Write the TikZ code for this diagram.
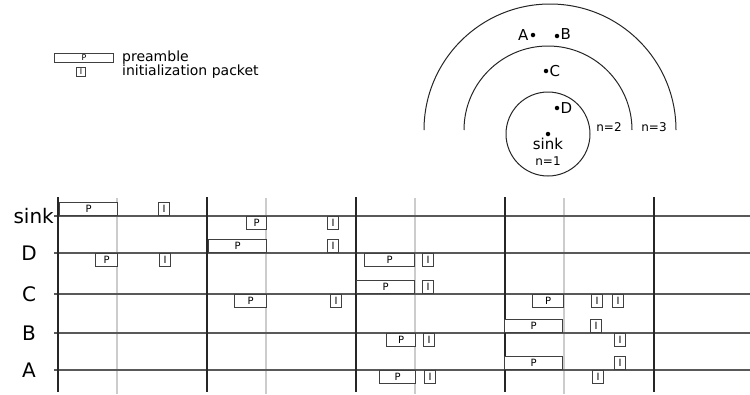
\documentclass[tikz,border=0pt]{standalone}
\usepackage{fontspec}
\setmainfont{DejaVu Sans}
\usetikzlibrary{positioning}
\tikzset{
  lane/.style={draw=black!65,line width=1.4pt},
  slotline/.style={draw=black!85,line width=1.1pt},
  halfline/.style={draw=black!20,line width=1.1pt},
  pbox/.style={draw=black!75,fill=white,line width=1.1pt,inner sep=0pt,minimum height=13pt,font=\fontsize{10}{10}\selectfont},
  ibox/.style={pbox,minimum width=11pt},
  rowlabel/.style={font=\fontsize{20}{20}\selectfont,inner sep=0pt},
  dot/.style={circle,fill=black,inner sep=0pt,minimum size=4.5pt},
  ringlabel/.style={font=\fontsize{15}{15}\selectfont,inner sep=1pt},
  hoplabel/.style={font=\fontsize{12}{12}\selectfont,inner sep=1pt},
  legend/.style={font=\fontsize{14}{14}\selectfont,anchor=west,inner sep=0pt},
}

\begin{document}
\begin{tikzpicture}[x=1pt,y=-1pt]
\useasboundingbox (0,0) rectangle (750,394);

% legend
\node[pbox,minimum width=59pt,minimum height=9pt,anchor=north west,font=\fontsize{8}{8}\selectfont] (legp) at (54,53) {P};
\node[legend] (legpt) at (122,58) {preamble};
\node[ibox,minimum width=9pt,minimum height=9pt,anchor=north west,font=\fontsize{8}{8}\selectfont] (legi) at (76,67) {I};
\node[legend] (legit) at (122,72) {initialization packet};

% rings round the sink
\node[dot] (sinkdot) at (548,134) {};
\draw[line width=1pt,draw=black!85] (sinkdot) circle[radius=42pt];
\coordinate (core2) at (548,130);
\coordinate (core3) at (550,130);
\draw[line width=1pt,draw=black!85] ([xshift=84pt]core2) arc[start angle=0,end angle=180,radius=84pt];
\draw[line width=1pt,draw=black!85] ([xshift=126pt]core3) arc[start angle=0,end angle=180,radius=126pt];
\node[ringlabel,below=0pt of sinkdot] (sinklab) {sink};
\node[dot] (Ddot) at (557,108) {};
\node[ringlabel,right=0pt of Ddot] (Dlab) {D};
\node[dot] (Cdot) at (546,71) {};
\node[ringlabel,right=0pt of Cdot] (Clab) {C};
\node[dot] (Adot) at (533,35) {};
\node[ringlabel,left=1pt of Adot] (Alab) {A};
\node[dot] (Bdot) at (557,36) {};
\node[ringlabel,right=0pt of Bdot,yshift=2pt] (Blab) {B};
\node[hoplabel] (hop1) at (548,161) {n=1};
\node[hoplabel] (hop2) at (609,127) {n=2};
\node[hoplabel] (hop3) at (654,127) {n=3};

% time slots
\foreach \k in {0,...,3}
  \draw[halfline] (117+149*\k,198) -- ++(0,196);
\foreach \name/\y in {sink/216,D/253,C/294,B/333,A/370} {
  \coordinate (\name w) at (54,\y);
  \coordinate (\name e) at (750,\y);
  \draw[lane] (\name w) -- (\name e);
}
\foreach \k in {0,...,4}
  \draw[slotline] (58+149*\k,197) -- ++(0,195);

% row labels
\node[rowlabel,anchor=east] (lsink) at (sinkw) {sink};
\node[rowlabel] (lD) at (29,253) {D};
\node[rowlabel] (lC) at (29,294) {C};
\node[rowlabel] (lB) at (29,333) {B};
\node[rowlabel] (lA) at (29,370) {A};

% preambles above / below a lane
\foreach \x/\y/\w [count=\i] in {59/216/58,208/253/58,356/294/58,504/333/58,504/370/58}
  \node[pbox,minimum width=\w,anchor=south west] (pa\i) at (\x,\y) {P};
\foreach \x/\y/\w [count=\i] in {95/253/22,246/216/20,234/294/32,364/253/50,532/294/31,386/333/29,379/370/36}
  \node[pbox,minimum width=\w,anchor=north west] (pb\i) at (\x,\y) {P};

% initialization packets above / below a lane
\foreach \x/\y [count=\i] in {158/216,327/253,422/294,590/333,614/370}
  \node[ibox,anchor=south west] (ia\i) at (\x,\y) {I};
\foreach \x/\y [count=\i] in {159/253,327/216,330/294,422/253,591/294,612/294,423/333,614/333,424/370,592/370}
  \node[ibox,anchor=north west] (ib\i) at (\x,\y) {I};

\end{tikzpicture}
\end{document}
